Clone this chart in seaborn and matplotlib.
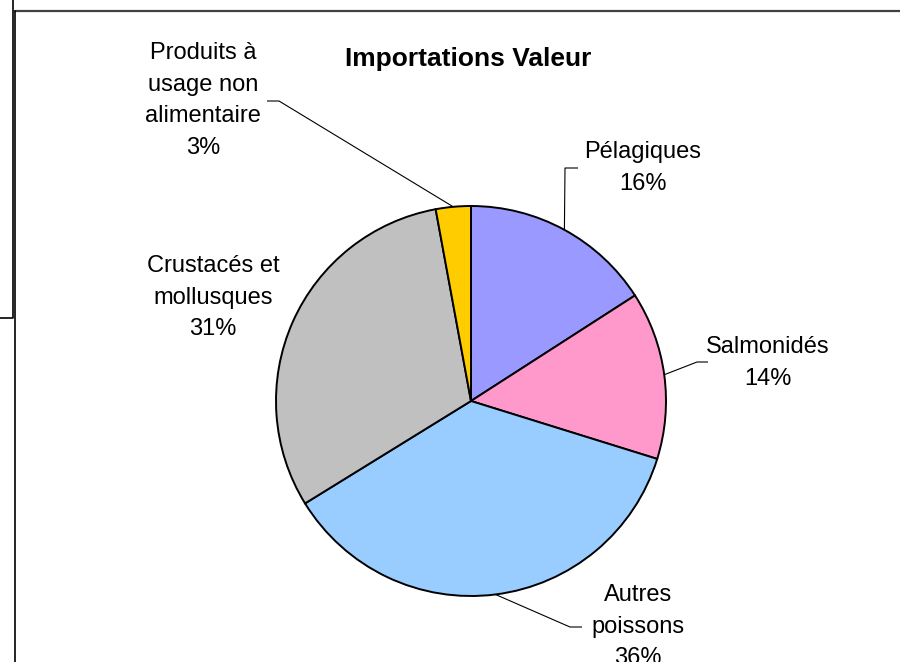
import matplotlib
matplotlib.use("Agg")
import numpy as np
import matplotlib.pyplot as plt
import seaborn as sns
from matplotlib.lines import Line2D

# Import value shares by product family (percent)
categories = ["Pélagiques", "Salmonidés", "Autres poissons",
              "Crustacés et mollusques", "Produits à usage non alimentaire"]
label_lines = [["Pélagiques"], ["Salmonidés"], ["Autres", "poissons"],
               ["Crustacés et", "mollusques"], ["Produits à", "usage non", "alimentaire"]]
shares = [15.9, 13.9, 36.4, 30.9, 2.9]
colors = ["#9999FF", "#FF99CC", "#99CCFF", "#C0C0C0", "#FFCC00"]
title = "Importations Valeur"

sns.set_theme(style="white")
plt.rcParams["font.family"] = ["Liberation Sans", "DejaVu Sans"]

W, H = 900, 662
fig = plt.figure(figsize=(W / 100, H / 100), dpi=100)
fig.patch.set_facecolor("white")
ax = fig.add_axes([0, 0, 1, 1])


def px(x, y):
    """Pixel position (origin top-left) to data coordinates."""
    return x, H - y


cx, cy = px(471, 401)
radius = 195
wedges, _ = ax.pie(shares, colors=colors, startangle=90, counterclock=False,
                   center=(cx, cy), radius=radius,
                   wedgeprops=dict(edgecolor="black", linewidth=1.4))
ax.set_xlim(0, W)
ax.set_ylim(0, H)
ax.set_aspect("equal")
ax.axis("off")

# Label placement: (x centre, top of first line) and leader elbows, in pixels
label_pos = [(643, 141), (768, 336), (638, 584), (213, 255), (203, 42)]
leaders = [[(565, 168), (578, 168)],
           [(697, 362), (708, 362)],
           [(570, 627), (582, 627)],
           [],
           [(279, 101), (267, 101)]]

for w, lines, share, (lx, ly), elbow in zip(wedges, label_lines, shares, label_pos, leaders):
    text = "\n".join(lines + [f"{round(share)}%"])
    x, y = px(lx, ly)
    ax.text(x, y, text, ha="center", va="top", fontsize=17,
            linespacing=1.56, color="black")
    if elbow:
        mid = np.deg2rad((w.theta1 + w.theta2) / 2)
        ax_pt = (cx + radius * np.cos(mid), cy + radius * np.sin(mid))
        pts = [ax_pt] + [px(*p) for p in elbow]
        ax.plot([p[0] for p in pts], [p[1] for p in pts], color="black", lw=0.8,
                solid_capstyle="butt")

tx, ty = px(468, 66)
ax.text(tx, ty, title, ha="center", va="baseline", fontsize=19, fontweight="bold",
        color="black")

# Chart frame edges
fig.add_artist(Line2D([15 / W, 1], [1 - 11 / H, 1 - 11 / H], color="#404040", lw=1.6,
                      transform=fig.transFigure))
fig.add_artist(Line2D([15 / W, 15 / W], [0, 1 - 11 / H], color="black", lw=1.2,
                      transform=fig.transFigure))
fig.add_artist(Line2D([12.5 / W, 12.5 / W, 0], [1, 1 - 318 / H, 1 - 318 / H], color="black",
                      lw=1.2, transform=fig.transFigure))

fig.savefig("out.png", dpi=100, facecolor="white")
